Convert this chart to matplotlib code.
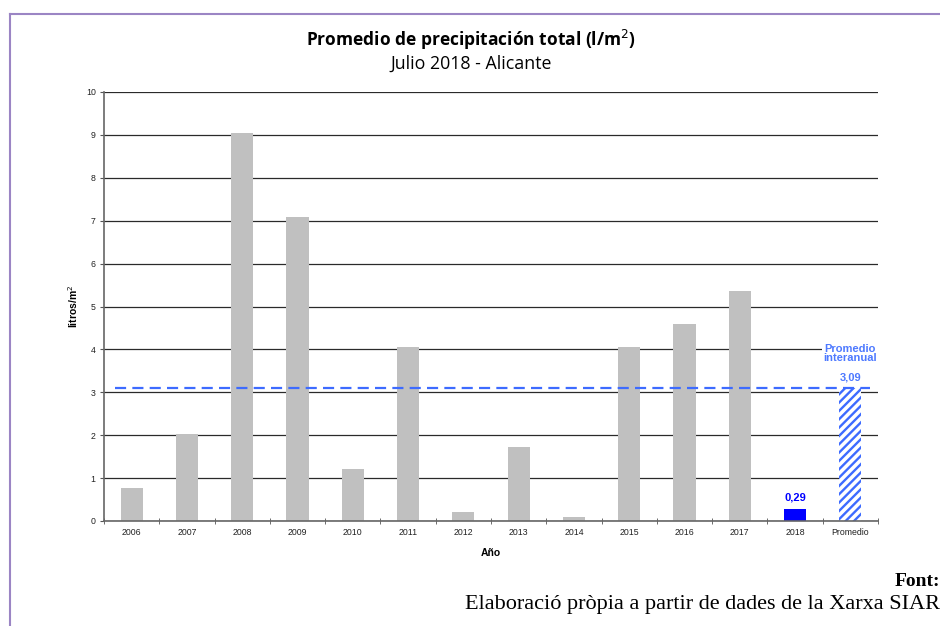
import numpy as np
import matplotlib.pyplot as plt
from matplotlib.lines import Line2D

# data
years = ['2006', '2007', '2008', '2009', '2010', '2011', '2012',
         '2013', '2014', '2015', '2016', '2017', '2018', 'Promedio']
values = [0.77, 2.02, 9.05, 7.08, 1.22, 4.05, 0.20,
          1.72, 0.10, 4.05, 4.60, 5.37, 0.29, 3.09]
mean_value = 3.09
label_2018 = '0,29'
label_mean = '3,09'

plt.rcParams['font.family'] = ['Liberation Sans', 'DejaVu Sans']
plt.rcParams['hatch.linewidth'] = 1.7

fig = plt.figure(figsize=(9.4, 6.26), dpi=100)
ax = fig.add_axes([104 / 940, 1 - 521 / 626, 774 / 940, 429 / 626])

x = np.arange(len(years))
colors = ['#c0c0c0'] * 12 + ['#0000ff']
ax.bar(x[:13], values[:13], width=0.4, color=colors, zorder=2)
ax.bar(x[13], values[13], width=0.4, color='white', edgecolor='#3d6bff',
       hatch='////', linewidth=0, zorder=2)

# mean line
ax.plot([-0.3, 13.35], [mean_value, mean_value], color='#3d6bff',
        lw=1.6, dashes=(5, 2.8), zorder=3)

ax.set_xlim(-0.5, 13.5)
ax.set_ylim(0, 10)
ax.set_yticks(range(0, 11))
ax.yaxis.grid(True, color='#2a2a2a', lw=0.9, zorder=1)
ax.set_axisbelow(True)

ax.set_xticks(x)
ax.set_xticklabels(years, fontsize=6.3, color='#222222')
ax.set_xticks(np.arange(-0.5, 14, 1), minor=True)
ax.tick_params(axis='x', which='major', length=0, pad=5)
ax.tick_params(axis='x', which='minor', length=4, direction='inout', color='#555555')
ax.tick_params(axis='y', labelsize=6.3, labelcolor='#222222', length=3,
               color='#555555', pad=3)

for s in ['top', 'right']:
    ax.spines[s].set_visible(False)
for s in ['left', 'bottom']:
    ax.spines[s].set_color('#666666')
    ax.spines[s].set_linewidth(1.2)

ax.set_ylabel('litros/m$^2$', fontsize=7.5, fontweight='bold', labelpad=4)
ax.set_xlabel('Año', fontsize=7.5, fontweight='bold', labelpad=8)

# value labels
ax.text(12, values[12] + 0.15, label_2018, ha='center', va='bottom',
        fontsize=8, fontweight='bold', color='#0000ff', zorder=4)
ax.text(13, mean_value + 0.15, label_mean, ha='center', va='bottom',
        fontsize=8, fontweight='bold', color='#4d79ff', zorder=4,
        bbox=dict(facecolor='white', edgecolor='none', pad=1))
ax.text(13, 3.9, 'Promedio\ninteranual', ha='center', va='center',
        fontsize=8, fontweight='bold', color='#4d79ff', linespacing=0.85,
        zorder=4, bbox=dict(facecolor='white', edgecolor='none', pad=1))

# titles
fig.text(471 / 940, 1 - 40 / 626, 'Promedio de precipitación total (l/m$^2$)',
         ha='center', va='center', fontsize=12.5, fontweight='bold',
         family=['Open Sans', 'DejaVu Sans'])
fig.text(471 / 940, 1 - 64 / 626, 'Julio 2018 - Alicante', ha='center',
         va='center', fontsize=12.8, family=['Open Sans', 'DejaVu Sans'])

# source
fig.text(940 / 940, 1 - 581 / 626, 'Font:', ha='right', va='center',
         fontsize=14, fontweight='bold', family=['Liberation Serif'])
fig.text(940 / 940, 1 - 604 / 626,
         'Elaboració pròpia a partir de dades de la Xarxa SIAR',
         ha='right', va='center', fontsize=16, family=['Liberation Serif'])

# frame
fig.add_artist(Line2D([10 / 940, 1], [1 - 14 / 626, 1 - 14 / 626],
                      transform=fig.transFigure, color='#9b85c4', lw=1.5))
fig.add_artist(Line2D([10 / 940, 10 / 940], [0, 1 - 14 / 626],
                      transform=fig.transFigure, color='#9b85c4', lw=1.5))

fig.savefig('out.png', dpi=100)
